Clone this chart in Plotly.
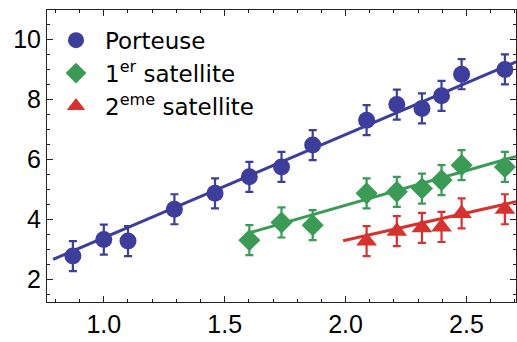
import plotly.graph_objects as go

# Porteuse (blue circles)
porteuse_x = [0.872, 1.0, 1.10, 1.292, 1.46, 1.602, 1.735, 1.864, 2.087, 2.212, 2.316, 2.397, 2.48, 2.659]
porteuse_y = [2.78, 3.33, 3.28, 4.34, 4.87, 5.42, 5.75, 6.48, 7.31, 7.83, 7.70, 8.12, 8.84, 9.00]

# 1er satellite (green diamonds)
sat1_x = [1.602, 1.735, 1.864, 2.087, 2.212, 2.316, 2.397, 2.48, 2.659]
sat1_y = [3.31, 3.90, 3.81, 4.87, 4.92, 5.03, 5.31, 5.81, 5.75]

# 2eme satellite (red triangles)
sat2_x = [2.087, 2.212, 2.316, 2.397, 2.48, 2.659]
sat2_y = [3.28, 3.61, 3.72, 3.75, 4.20, 4.34]

error_bar = 0.5

# fitted lines
porteuse_fit_x = [0.79, 2.705]
porteuse_fit_y = [2.67, 9.25]
sat1_fit_x = [1.60, 2.705]
sat1_fit_y = [3.55, 6.10]
sat2_fit_x = [1.99, 2.705]
sat2_fit_y = [3.29, 4.59]

blue = '#3d3d9b'
green = '#3b9b56'
red = '#d5332f'

fig = go.Figure()

series = [
    (porteuse_x, porteuse_y, porteuse_fit_x, porteuse_fit_y, blue, 'circle', 17, 'Porteuse'),
    (sat1_x, sat1_y, sat1_fit_x, sat1_fit_y, green, 'diamond', 17, '1<sup>er</sup> satellite'),
    (sat2_x, sat2_y, sat2_fit_x, sat2_fit_y, red, 'triangle-up', 18, '2<sup>eme</sup> satellite'),
]

# fit lines first so markers sit on top
for x, y, fx, fy, color, symbol, size, name in series:
    fig.add_trace(go.Scatter(x=fx, y=fy, mode='lines', line={'color': color, 'width': 3},
                             showlegend=False, hoverinfo='skip'))

for x, y, fx, fy, color, symbol, size, name in series:
    fig.add_trace(go.Scatter(
        x=x, y=y, mode='markers', name=name,
        marker={'color': color, 'symbol': symbol, 'size': size, 'line': {'width': 0}},
        error_y={'type': 'constant', 'value': error_bar, 'color': color,
                 'thickness': 2.2, 'width': 4},
    ))

axis_style = {
    'showline': True, 'linecolor': '#222', 'linewidth': 1, 'mirror': 'allticks',
    'ticks': 'inside', 'ticklen': 6, 'tickcolor': '#222', 'tickwidth': 1,
    'showgrid': False, 'zeroline': False, 'automargin': False,
    'tickfont': {'family': 'Liberation Sans', 'size': 25, 'color': 'black'},
}

fig.update_xaxes(axis_style, range=[0.765, 2.705], dtick=0.5, tick0=0, tickformat='.1f',
                 minor={'dtick': 0.1, 'ticks': 'inside', 'ticklen': 3, 'tickcolor': '#222'})
fig.update_yaxes(axis_style, range=[1.25, 10.98], dtick=2, tick0=0,
                 minor={'dtick': 0.5, 'ticks': 'inside', 'ticklen': 3, 'tickcolor': '#222'})

fig.update_layout(
    width=517, height=342,
    margin={'l': 47, 'r': 1, 't': 10, 'b': 40},
    plot_bgcolor='white', paper_bgcolor='white',
    font={'family': 'Liberation Sans', 'color': 'black'},
    legend={'x': 0.0, 'y': 0.97, 'xanchor': 'left', 'yanchor': 'top', 'itemwidth': 48,
            'font': {'family': 'DejaVu Sans', 'size': 23}, 'bgcolor': 'rgba(0,0,0,0)',
            'tracegroupgap': 0},
)

# page has a default 8px body margin, drop it so the figure fills the window
fig.write_html("out.html", config={'displayModeBar': False},
               post_script="document.body.style.margin = '0';")
